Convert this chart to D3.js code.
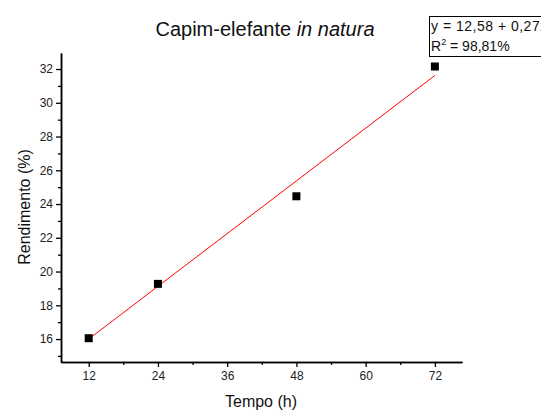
<!DOCTYPE html>
<html>
<head>
<meta charset="utf-8">
<script src="https://cdn.jsdelivr.net/npm/d3@7"></script>
<style>
  html, body { margin: 0; padding: 0; background: #fff; }
  svg { display: block; font-family: "Liberation Sans", Arial, sans-serif; }
</style>
</head>
<body>
<svg id="chart" width="541" height="412"></svg>
<script>
// Data
const hours = [12, 24, 48, 72];
const rendimento = [16.05, 19.27, 24.46, 32.15];
const fitHours = [12, 72];
const fitValues = [16.0, 31.62];
const xTicks = [12, 24, 36, 48, 60, 72];
const xMinorTicks = [18, 30, 42, 54, 66];
const yTicks = [16, 18, 20, 22, 24, 26, 28, 30, 32];
const yMinorTicks = [15, 17, 19, 21, 23, 25, 27, 29, 31];
const titleMain = "Capim-elefante ";
const titleItalic = "in natura";
const xLabel = "Tempo (h)";
const yLabel = "Rendimento (%)";
const eqLine = "y = 12,58 + 0,27x";
const r2Value = " = 98,81%";

const svg = d3.select("#chart");
const mLeft = 61, mRight = 462, mTop = 53, mBottom = 362;

const x = d3.scaleLinear().domain([7.2, 76.7]).range([mLeft, mRight]);
const y = d3.scaleLinear().domain([14.64, 32.95]).range([mBottom, mTop]);

// Title
const title = svg.append("text")
  .attr("x", 265).attr("y", 36)
  .attr("text-anchor", "middle")
  .attr("font-size", 20)
  .attr("fill", "#111");
title.append("tspan").text(titleMain);
title.append("tspan").attr("font-style", "italic").text(titleItalic);

// X axis
const gx = svg.append("g").attr("transform", `translate(0,${mBottom})`);
gx.call(d3.axisBottom(x).tickValues(xTicks).tickSize(5).tickPadding(4).tickSizeOuter(0));
const gxm = svg.append("g").attr("transform", `translate(0,${mBottom})`);
gxm.call(d3.axisBottom(x).tickValues(xMinorTicks).tickSize(3).tickFormat("").tickSizeOuter(0));

// Y axis
const gy = svg.append("g").attr("transform", `translate(${mLeft},0)`);
gy.call(d3.axisLeft(y).tickValues(yTicks).tickSize(5).tickPadding(3).tickSizeOuter(0));
const gym = svg.append("g").attr("transform", `translate(${mLeft},0)`);
gym.call(d3.axisLeft(y).tickValues(yMinorTicks).tickSize(3).tickFormat("").tickSizeOuter(0));

[gx, gxm, gy, gym].forEach(g => {
  g.select(".domain").attr("stroke", "#000").attr("stroke-width", 1.5);
  g.selectAll(".tick line").attr("stroke", "#000").attr("stroke-width", 1.3);
  g.selectAll(".tick text").attr("font-size", 12).attr("fill", "#222")
    .attr("font-family", "'Liberation Sans', Arial, sans-serif");
});

// Axis labels
svg.append("text")
  .attr("x", 261).attr("y", 407)
  .attr("text-anchor", "middle")
  .attr("font-size", 16).attr("fill", "#111")
  .text(xLabel);
svg.append("text")
  .attr("transform", `translate(30,207) rotate(-90)`)
  .attr("text-anchor", "middle")
  .attr("font-size", 16).attr("fill", "#111")
  .text(yLabel);

// Fit line
svg.append("path")
  .datum(fitHours.map((h, i) => [h, fitValues[i]]))
  .attr("fill", "none")
  .attr("stroke", "#ff0000")
  .attr("stroke-width", 1)
  .attr("d", d3.line().x(d => x(d[0])).y(d => y(d[1])));

// Points
svg.selectAll("rect.pt")
  .data(hours.map((h, i) => [h, rendimento[i]]))
  .join("rect")
  .attr("class", "pt")
  .attr("x", d => x(d[0]) - 4)
  .attr("y", d => y(d[1]) - 4)
  .attr("width", 8).attr("height", 8)
  .attr("fill", "#000");

// Equation box
svg.append("rect")
  .attr("x", 429.5).attr("y", 16.5)
  .attr("width", 120).attr("height", 40)
  .attr("fill", "#fff").attr("stroke", "#000").attr("stroke-width", 1);
svg.append("text")
  .attr("x", 431).attr("y", 31)
  .attr("font-size", 14).attr("fill", "#111")
  .attr("letter-spacing", 0.5)
  .text(eqLine);
const r2 = svg.append("text")
  .attr("x", 431).attr("y", 51)
  .attr("font-size", 14).attr("fill", "#111");
r2.append("tspan").text("R");
r2.append("tspan").attr("dy", -6).attr("font-size", 9).text("2");
r2.append("tspan").attr("dy", 6).text(r2Value);
</script>
</body>
</html>
